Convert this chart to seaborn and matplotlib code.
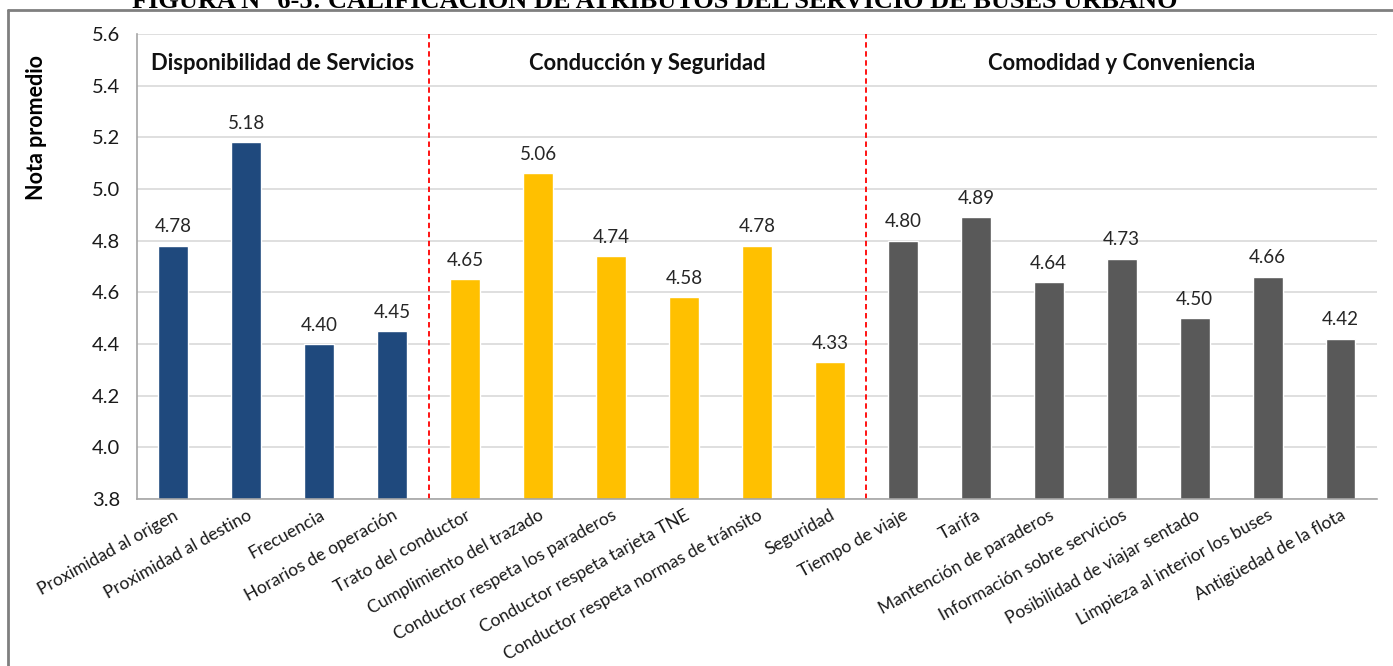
import matplotlib
matplotlib.use("Agg")
import matplotlib.pyplot as plt
from matplotlib.lines import Line2D
from matplotlib.ticker import FormatStrFormatter, FixedLocator
import seaborn as sns
import pandas as pd
import numpy as np

# Attribute names, in display order
atributos = [
    "Proximidad al origen", "Proximidad al destino", "Frecuencia",
    "Horarios de operación", "Trato del conductor", "Cumplimiento del trazado",
    "Conductor respeta los paraderos", "Conductor respeta tarjeta TNE",
    "Conductor respeta normas de tránsito", "Seguridad", "Tiempo de viaje",
    "Tarifa", "Mantención de paraderos", "Información sobre servicios",
    "Posibilidad de viajar sentado", "Limpieza al interior los buses",
    "Antigüedad de la flota",
]
# Average score per attribute
notas = [4.78, 5.18, 4.40, 4.45, 4.65, 5.06, 4.74, 4.58, 4.78, 4.33,
         4.80, 4.89, 4.64, 4.73, 4.50, 4.66, 4.42]
# Colour group of each bar
grupos = ["Disponibilidad"] * 4 + ["Conducción"] * 6 + ["Comodidad"] * 7
grupo_titulos = ["Disponibilidad de Servicios", "Conducción y Seguridad",
                 "Comodidad y Conveniencia"]
y_ticks = [3.8, 4.0, 4.2, 4.4, 4.6, 4.8, 5.0, 5.2, 5.4, 5.6]

colores = {"Disponibilidad": "#1F497D", "Conducción": "#FFC000",
           "Comodidad": "#595959"}

df = pd.DataFrame({"atributo": atributos, "nota": notas, "grupo": grupos})

sns.set_style("white")
plt.rcParams["font.family"] = ["Lato", "DejaVu Sans"]

fig = plt.figure(figsize=(13.93, 6.66), dpi=100)
ax = fig.add_axes([0.0983, 0.2508, 0.8902, 0.6982])

sns.barplot(data=df, x="atributo", y="nota", hue="grupo", palette=colores,
            dodge=False, width=0.41, legend=False, ax=ax, saturation=1)

ax.set_ylim(y_ticks[0], y_ticks[-1])
ax.set_xlim(-0.5, len(atributos) - 0.5)
ax.set_yticks(y_ticks)
ax.yaxis.set_major_formatter(FormatStrFormatter("%.1f"))
ax.grid(axis="y", color="#D9D9D9", linewidth=1.2)
ax.set_axisbelow(True)

for s in ["top", "right"]:
    ax.spines[s].set_visible(False)
for s in ["left", "bottom"]:
    ax.spines[s].set_color("#A6A6A6")
    ax.spines[s].set_linewidth(1.2)

ax.tick_params(axis="y", which="major", direction="out", length=6,
               color="#A6A6A6", labelsize=14.5, labelcolor="#1a1a1a", pad=6)
ax.tick_params(axis="x", which="major", length=0, labelsize=12.6,
               labelcolor="#1a1a1a", pad=6)
ax.xaxis.set_minor_locator(FixedLocator(np.arange(-0.5, len(atributos), 1.0)))
ax.tick_params(axis="x", which="minor", direction="out", length=6,
               color="#A6A6A6", width=1.2)
for lab in ax.get_xticklabels():
    lab.set_rotation(29)
    lab.set_ha("right")
    lab.set_rotation_mode("anchor")

ax.set_xlabel("")
ax.set_ylabel("Nota promedio", fontsize=15.5, fontweight="bold",
              color="#000000")
ax.yaxis.set_label_coords(-0.0726, 0.798)

# Value labels above each bar
for i, v in enumerate(notas):
    ax.text(i, v + 0.04, f"{v:.2f}", ha="center", va="bottom",
            fontsize=13.5, color="#262626")

# Group separators
for xs in [3.5, 9.5]:
    ax.axvline(xs, color="#FF0000", linestyle=(0, (3, 2)), linewidth=1.3)

# Group titles
for xc, t in zip([1.5, 6.5, 13.0], grupo_titulos):
    ax.text(xc, 5.485, t, ha="center", va="center", fontsize=15.8,
            fontweight="bold", color="#111111")

# Frame and heading of the figure
fig.add_artist(Line2D([8 / 1393, 8 / 1393], [0, 1 - 10 / 666],
                      color="#7F7F7F", linewidth=2))
fig.add_artist(Line2D([8 / 1393, 1], [1 - 10 / 666, 1 - 10 / 666],
                      color="#7F7F7F", linewidth=2))
fig.text(655 / 1393, 1 - 8 / 666,
         "FIGURA N° 6-5: CALIFICACIÓN DE ATRIBUTOS DEL SERVICIO DE BUSES URBANO",
         ha="center", va="baseline", fontsize=19, fontweight="bold",
         family="Liberation Serif", color="#000000")

fig.savefig("out.png", dpi=100, facecolor="white")
